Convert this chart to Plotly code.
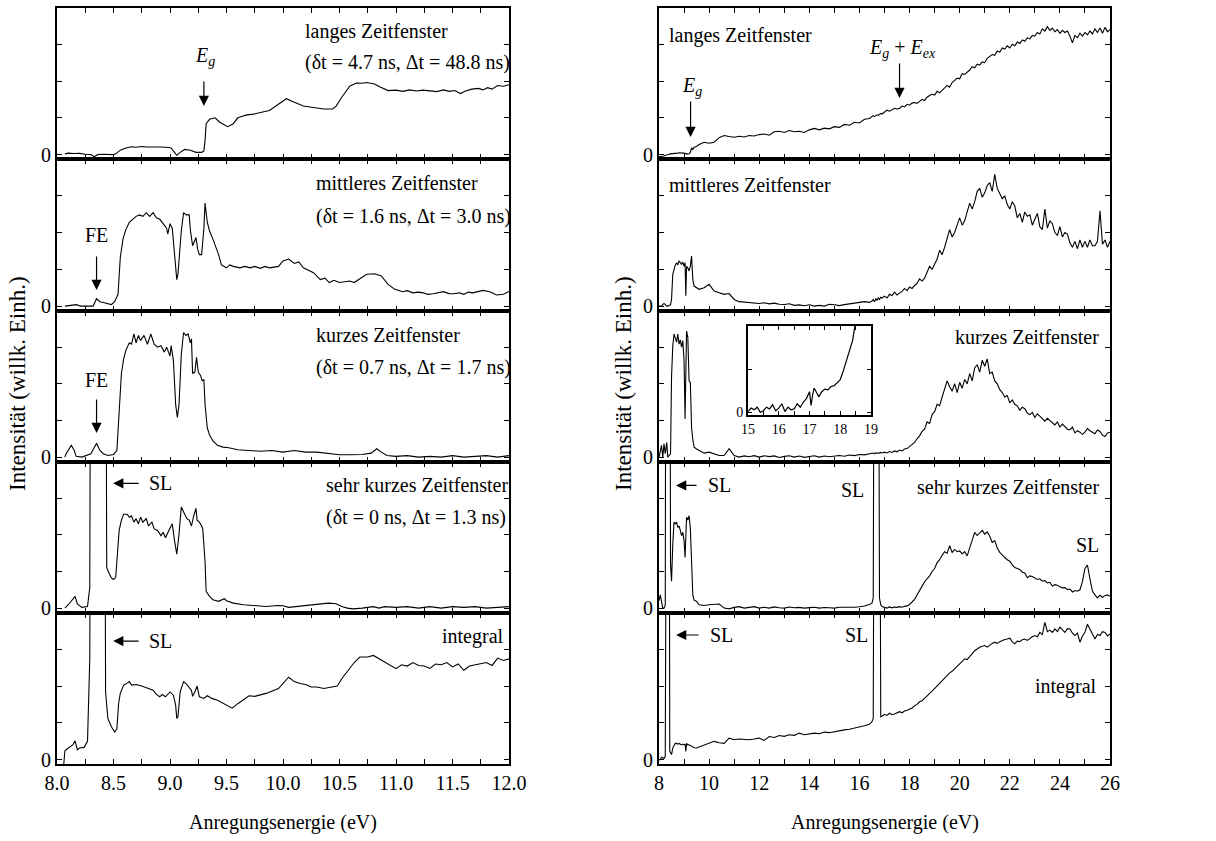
import plotly.graph_objects as go

# ---------------- data: left column (8-12 eV) ----------------
E_L1 = [8.07, 8.10, 8.15, 8.20, 8.25, 8.30, 8.33, 8.36, 8.40, 8.45, 8.50, 8.52, 8.56, 8.61, 8.66, 8.70, 8.75, 8.80, 8.85, 8.90,
        8.97, 9.01, 9.04, 9.06, 9.09, 9.13, 9.18, 9.23, 9.28, 9.30, 9.31, 9.32, 9.35, 9.40, 9.44, 9.51, 9.56, 9.60, 9.64, 9.68,
        9.74, 9.78, 9.82, 9.88, 9.94, 10.03, 10.09, 10.18, 10.27, 10.36, 10.44, 10.47, 10.52, 10.59, 10.65, 10.70, 10.74, 10.78, 10.81, 10.86,
        10.93, 11.00, 11.06, 11.12, 11.18, 11.24, 11.30, 11.36, 11.42, 11.47, 11.52, 11.57, 11.61, 11.67, 11.73, 11.77, 11.81, 11.85, 11.90, 11.95,
        12.00]
I_L1 = [0.5, 1, 0.7, 0.8, 0.2, 0, -1.5, 0, 0.2, 0, 0, 0.5, 3, 4.5, 5.3, 5, 5.5, 5.2, 5.4, 5.2,
        5, 4.5, 1.5, -0.5, 1.5, 3.5, 3, 1.5, 1.5, 2.5, 9.5, 21, 24, 25, 22, 19, 21, 25, 26, 27,
        27.5, 28.5, 29, 30, 33, 38, 36, 33, 32, 31, 31, 33, 39, 46.5, 48.6, 48.5, 49, 48.3, 48, 46,
        43.5, 43.8, 43, 44, 43.2, 43.8, 43.5, 42.8, 44, 43, 43.6, 41.5, 43, 44.5, 45, 44, 45.5, 44.5, 47, 46.5,
        47.5]

E_L2 = [8.07, 8.12, 8.17, 8.21, 8.25, 8.32, 8.35, 8.38, 8.41, 8.44, 8.48, 8.51, 8.54, 8.56, 8.585, 8.61, 8.64, 8.67, 8.70, 8.73,
        8.76, 8.79, 8.82, 8.85, 8.88, 8.91, 8.94, 8.97, 8.98, 9.00, 9.02, 9.04, 9.06, 9.07, 9.09, 9.10, 9.12, 9.145, 9.17, 9.18,
        9.20, 9.23, 9.245, 9.26, 9.28, 9.30, 9.31, 9.33, 9.35, 9.38, 9.43, 9.455, 9.50, 9.53, 9.56, 9.59, 9.62, 9.66, 9.71, 9.75,
        9.80, 9.84, 9.88, 9.92, 9.96, 10.00, 10.05, 10.10, 10.14, 10.18, 10.27, 10.33, 10.37, 10.41, 10.45, 10.50, 10.55, 10.59, 10.63, 10.67,
        10.74, 10.81, 10.87, 10.93, 10.99, 11.06, 11.10, 11.15, 11.20, 11.24, 11.28, 11.33, 11.38, 11.42, 11.47, 11.51, 11.56, 11.60, 11.64, 11.68,
        11.77, 11.83, 11.89, 11.95, 12.00]
I_L2 = [0, 0.5, 1, 0, 0, 0, 5, 3, 2.5, 2, 1, 3, 8, 33, 46, 52, 57, 59, 61, 62,
        61, 63.5, 61, 63.5, 60, 59, 56, 53, 49, 56, 53, 33, 18, 21.5, 42, 51, 63.5, 62, 62, 52,
        41, 46.6, 38.6, 35, 35, 53, 70, 57, 51, 45.5, 35, 28, 26, 28, 27, 26.5, 26, 27, 26, 27,
        25.7, 27, 26, 26.5, 27, 30.7, 32, 29, 30, 26, 22.7, 18, 19, 16, 17.5, 16, 16.5, 17, 16, 18,
        21.6, 22, 20.5, 14.8, 11.4, 9.8, 10.5, 9, 9.5, 9, 8, 8.4, 9, 9.8, 8.5, 8.4, 9, 8, 9.5, 9,
        10.7, 9.8, 7.5, 8, 10]

E_L3 = [8.07, 8.08, 8.127, 8.15, 8.17, 8.22, 8.30, 8.35, 8.38, 8.41, 8.45, 8.50, 8.53, 8.55, 8.57, 8.59, 8.61, 8.64, 8.66, 8.68,
        8.70, 8.72, 8.74, 8.77, 8.80, 8.83, 8.86, 8.89, 8.92, 8.95, 8.97, 9.00, 9.01, 9.03, 9.05, 9.065, 9.08, 9.10, 9.12, 9.14,
        9.16, 9.18, 9.19, 9.20, 9.22, 9.235, 9.25, 9.27, 9.285, 9.30, 9.31, 9.33, 9.35, 9.38, 9.42, 9.47, 9.52, 9.60, 9.70, 9.80,
        9.90, 10.00, 10.10, 10.20, 10.30, 10.40, 10.50, 10.60, 10.70, 10.78, 10.83, 10.87, 10.92, 11.00, 11.10, 11.20, 11.30, 11.40, 11.50, 11.60,
        11.70, 11.80, 11.90, 12.00]
I_L3 = [0, 2.3, 8, 5, 0.5, 0, 2.3, 9.5, 4.5, 2.3, 1.1, 1.8, 4.5, 32, 57, 67, 73, 78, 77, 84,
        78, 83, 79.5, 83, 77, 84, 77, 75, 76, 71.6, 75, 69, 76, 66, 36, 27, 36, 70, 85, 83,
        84, 78, 80.7, 57, 58, 68, 58, 55.7, 52, 53, 36, 20, 15, 11, 8, 6.8, 6.4, 5, 4.5, 4,
        4.5, 3.4, 4.5, 3.4, 3.4, 2.3, 1.6, 1.6, 1.8, 2.7, 5.7, 3.4, 1.1, 0.5, 1, 0, 0.5, 0, 1, 0,
        0.5, 1, 0, 1]

E_L4 = [8.07, 8.10, 8.16, 8.18, 8.22, 8.27, 8.29, 8.30, 8.43, 8.44, 8.46, 8.48, 8.50, 8.52, 8.53, 8.55, 8.57, 8.59, 8.62, 8.64,
        8.66, 8.68, 8.70, 8.72, 8.74, 8.76, 8.79, 8.81, 8.84, 8.86, 8.89, 8.92, 8.94, 8.96, 8.99, 9.01, 9.02, 9.04, 9.06, 9.08,
        9.10, 9.13, 9.15, 9.17, 9.19, 9.21, 9.23, 9.24, 9.26, 9.28, 9.29, 9.31, 9.32, 9.35, 9.38, 9.43, 9.48, 9.50, 9.56, 9.65,
        9.75, 9.85, 9.95, 10.00, 10.05, 10.12, 10.20, 10.30, 10.40, 10.47, 10.52, 10.57, 10.62, 10.70, 10.80, 10.85, 10.90, 11.00, 11.10, 11.20,
        11.30, 11.40, 11.50, 11.60, 11.70, 11.80, 11.90, 12.00]
I_L4 = [0, 2.3, 8, 2.8, 0.5, 1.1, 14, 300, 300, 27.6, 24, 20.7, 19.5, 21, 32, 53, 60, 64, 64, 62,
        63, 58.6, 61, 57.5, 62, 58.6, 61, 56, 58.6, 54, 53, 49.4, 51.7, 48, 53, 56, 57.5, 46, 36.8, 50.6,
        69, 64, 61, 60, 56, 63, 68, 60, 58.6, 56, 54, 32, 11.5, 8, 5.7, 4.6, 6.4, 5, 3.4, 2.3,
        1.8, 1.1, 1.8, 1.6, 0.5, 1.1, 1.8, 2.8, 3.4, 3, 1.1, 0, -0.5, 0, 1, 0, 1, 0.5, 1, 0,
        1, 0, 1, 0.5, 1, 0, 0.5, 1]

E_L5 = [8.06, 8.07, 8.10, 8.14, 8.16, 8.18, 8.20, 8.22, 8.24, 8.27, 8.28, 8.29, 8.30, 8.42, 8.43, 8.45, 8.48, 8.51, 8.53, 8.545,
        8.56, 8.59, 8.62, 8.64, 8.66, 8.70, 8.75, 8.80, 8.85, 8.88, 8.91, 8.93, 8.96, 9.00, 9.03, 9.05, 9.06, 9.07, 9.09, 9.12,
        9.15, 9.19, 9.20, 9.22, 9.24, 9.26, 9.30, 9.33, 9.37, 9.42, 9.48, 9.55, 9.60, 9.65, 9.70, 9.75, 9.80, 9.85, 9.90, 9.96,
        10.05, 10.10, 10.15, 10.20, 10.25, 10.30, 10.36, 10.42, 10.48, 10.52, 10.58, 10.63, 10.68, 10.75, 10.80, 10.84, 10.90, 10.95, 11.00, 11.05,
        11.10, 11.15, 11.20, 11.25, 11.30, 11.35, 11.40, 11.45, 11.50, 11.55, 11.60, 11.65, 11.70, 11.75, 11.80, 11.85, 11.90, 11.95, 12.00]
I_L5 = [-3, 6, 7.9, 10, 12.8, 6.7, 7.9, 7.9, 8.3, 12.4, 35, 68.5, 300, 300, 46, 28, 22.5, 18.7, 21, 38,
        45, 50.6, 52, 53, 50.6, 51, 50, 48.8, 47.2, 44.3, 42.7, 44.3, 42.7, 46, 43.8, 37, 28, 29, 46, 53,
        51, 47, 43, 46, 50, 42.7, 41.6, 43.4, 41.6, 40.4, 38, 35, 38, 40.4, 43.4, 43, 43.8, 45, 46.5, 48.3,
        56, 53, 51.7, 51, 49.4, 49.4, 48.3, 49.4, 50, 55, 60.7, 66, 69.7, 69.7, 70.8, 69, 66, 63.6, 61.8, 64.5,
        63.6, 66, 64, 63.6, 62, 65, 64.5, 66, 63, 65, 60.7, 63.6, 64.5, 65, 66, 64, 69, 67.4, 68.5]

# ---------------- data: right column (8-26 eV), shared energy grid ----------------
E_R = [8.0, 8.05, 8.1, 8.15, 8.2, 8.25, 8.28, 8.31, 8.35, 8.4, 8.43, 8.46, 8.5, 8.55, 8.6, 8.65, 8.7, 8.75, 8.8, 8.85,
       8.9, 8.95, 9.0, 9.04, 9.07, 9.1, 9.15, 9.2, 9.25, 9.3, 9.35, 9.4, 9.5,
       9.6, 9.8, 10.0, 10.2, 10.4, 10.6, 10.8, 11.0, 11.2, 11.4, 11.6, 11.8, 12.0, 12.2, 12.4, 12.6, 12.8, 13.0, 13.2, 13.4,
       13.6, 13.8, 14.0, 14.2, 14.4, 14.6, 14.8, 15.0, 15.2, 15.4, 15.6, 15.8, 16.0, 16.2, 16.4,
       16.5, 16.55, 16.6, 16.65, 16.7, 16.75, 16.8, 16.85, 16.9,
       17.0, 17.1, 17.2, 17.3, 17.4, 17.5, 17.6, 17.7, 17.8, 17.9,
       18.0, 18.1, 18.2, 18.3, 18.4, 18.5, 18.6, 18.7, 18.8, 18.9,
       19.0, 19.1, 19.2, 19.3, 19.4, 19.5, 19.6, 19.7, 19.8, 19.9,
       20.0, 20.1, 20.2, 20.3, 20.4, 20.5, 20.6, 20.7, 20.8, 20.9,
       21.0, 21.1, 21.2, 21.3, 21.4, 21.5, 21.6, 21.7, 21.8, 21.9,
       22.0, 22.1, 22.2, 22.3, 22.4, 22.5, 22.6, 22.7, 22.8, 22.9,
       23.0, 23.1, 23.2, 23.3, 23.4, 23.5, 23.6, 23.7, 23.8, 23.9,
       24.0, 24.1, 24.2, 24.3, 24.4, 24.5, 24.6, 24.7, 24.8, 24.9,
       25.0, 25.1, 25.2, 25.3, 25.4, 25.5, 25.6, 25.7, 25.8, 25.9, 26.0]

I_R1 = [-1.5, -1.5, -1, -1, -1, -0.5, -0.5, 0, 0, 0, 0.5, 0.5, 0.5, 1, 1, 1, 1, 1, 1.2, 1,
        1, 1, 1, 0.8, 0.5, 0.5, 0.3, 0.5, 1.5, 4.5, 3.5, 5, 5.5,
        6.8, 8.4, 7.7, 8.4, 11.5, 13, 12.3, 11.8, 12.5, 12, 13, 12.6, 13.6, 14, 13.2, 15.5, 15.9, 15, 16.4, 15.5,
        15.9, 15, 16.8, 17.8, 16.8, 18, 17.5, 19, 18.5, 20.5, 20, 22, 21.5, 24, 24.5,
        25.5, 26.5, 25.8, 26.5, 27, 26.6, 27.5, 28, 27.6,
        29, 30.2, 29.5, 30.8, 31.5, 31, 31.4, 33, 32.5, 34.2,
        33.6, 35, 35.5, 34.8, 36, 37.5, 36.8, 39, 40.2, 41,
        40.5, 43, 42, 43.5, 45, 47, 45.8, 49, 50.5, 52,
        51.5, 55, 54.5, 56, 57.5, 59.8, 59, 61.5, 60.8, 63,
        62.5, 65.5, 66.5, 68, 67.5, 70.5, 69.5, 72.5, 71.8, 74,
        72.5, 75, 74, 76.5, 75.5, 78, 77, 79.5, 78.5, 81,
        80.5, 83, 82, 85.5, 84, 87, 84.5, 86, 83.5, 85,
        82.5, 84.5, 83, 84, 80.5, 76, 81, 79.5, 82.5, 80.5,
        83, 81.5, 84, 82, 85.5, 83, 86, 82.5, 86.5, 83.5, 85]

I_R2 = [0, 0, 0, 1, 1.8, 1, 0, 0, 0, 0, 0.5, 1, 4.5, 21.6, 26, 28, 29.5, 28, 30.7, 29,
        28.4, 30, 27, 29.5, 7, 27, 26, 23.9, 27, 34, 18, 13.6, 12.5,
        11.4, 12.5, 14.8, 10.2, 9, 8, 8.5, 4.5, 3, 2.7, 2.7, 2, 1.8, 2.3, 1.5, 2, 1.2, 1.1, 1.6, 0.5,
        0.8, 0.2, 0.9, 0, 0.5, 0, 1.2, 0.9, 0.3, 1, 1.5, 2, 2.3, 3, 2.5,
        3.4, 4.5, 3, 5, 4, 5.5, 4.5, 6, 5.5,
        6.8, 5.5, 8, 7.2, 9.5, 7.5, 8.8, 10, 12, 10.5,
        13, 12, 14, 15.5, 18.5, 17, 19, 22.5, 27, 25,
        29, 32, 38, 35, 40, 46, 52, 47, 50, 55,
        60, 55, 58, 64, 70, 66, 71, 78, 80, 74,
        77, 82, 84, 78, 89.5, 80, 77, 73, 75, 69,
        66, 71, 68, 60, 63, 57, 64, 61, 62, 55,
        59, 63, 54, 52, 66, 53, 58, 56, 50, 48,
        54, 47, 50, 49, 43, 40, 44, 39, 45, 40,
        44, 40, 45, 41, 41, 44, 64.8, 42, 45, 40, 44]

I_R3 = [0, 4.5, 8, 0, 9, 2.3, 8, 10, 0, 1, 2.3, 2.3, 54.5, 76, 84, 80, 78.4, 84, 77, 80,
        75, 79.5, 66, 26, 84, 86, 81.8, 52, 51, 20, 12, 6.8, 5.5,
        4.5, 2.7, 3.4, 2, 1.1, 1.1, 5.7, 1.1, 0, 0.8, 0.2, 1, 0, 0.9, 0.3, 0.8, -0.3, 0.5, 0.9, 0,
        0.7, -0.2, 0.3, 0.9, 0, 0.7, 0.2, 0.8, 1.1, 0.6, 1.4, 1, 1.8, 1.5, 2.2,
        2.3, 2.8, 2.2, 3, 2.5, 2.9, 2.7, 3.2, 2.8,
        3.4, 2.8, 3.8, 3.2, 4.2, 3.6, 4.8, 4.2, 5.5, 5.8,
        7, 8.5, 10, 12.5, 14.5, 17.5, 19, 24, 23, 29,
        31, 36, 35, 41, 47, 52, 48, 45, 50, 44,
        51, 47, 53, 50, 57, 52, 61, 63, 58, 66,
        62, 67, 57, 58, 52, 50, 46, 44, 41, 42,
        37, 39, 36, 35, 32, 34, 33, 30, 29, 30.5,
        27, 29.5, 28, 26, 24.5, 26.5, 25, 23, 22, 24,
        20.5, 22.5, 21, 19, 18.5, 20.5, 16.5, 18, 17, 15.5,
        17, 19.5, 18, 17, 16, 18.5, 17.5, 15, 14, 16.5, 17]

I_R4 = [5, 9, 4.6, 0, 0, 2, 300, 300, 300, 300, 300, 30, 18.4, 43.7, 58.6, 57.5, 58.6, 55, 56, 53,
        49.4, 51.7, 46, 34.5, 55, 62, 60, 63, 55, 32, 9, 5.5, 4.6,
        2.3, 1.8, 2.3, 2.8, 2.8, 0, -0.5, 0.5, 1, 0, 0.5, 1, 0, 0.6, 0, 0.8, 0.2, 0, 0.7, 0.2,
        0.5, 0, 0.3, 0.6, 0, 0.4, 0.2, 0, 0.6, 0.5, 0.8, 0.6, 0.9, 1.4, 2.5,
        3.4, 6.9, 300, 300, 300, 300, 6.9, 2.3, 1,
        0.5, 0, 0.8, 0.2, 0.7, 0.5, 1, 0.6, 1.2, 1.5,
        2.5, 4, 6, 9, 12.5, 15, 18, 20, 22, 25,
        27, 31, 33, 36, 38.5, 37.5, 42.5, 38, 40, 38.5,
        39, 37, 38.5, 35.6, 41, 46, 51.7, 49.5, 51, 53,
        50.5, 52, 49, 44.8, 46, 41, 38, 36, 34.5, 33,
        32, 29.5, 27.6, 27, 26.4, 24.5, 24, 20.7, 22, 21.5,
        20.5, 19.5, 20, 18.4, 18.8, 17.2, 17.6, 15, 16, 15.6,
        14.5, 13.8, 14, 12.6, 13, 11, 12, 11.5, 12.5, 18,
        27, 29.4, 20, 11.5, 9, 7, 8.7, 7.4, 8.5, 9, 8]

I_R5 = [0, 0, 1.6, 1, 0.7, 2.2, 300, 300, 300, 300, 5.6, 4, 3.4, 8, 10, 11, 11, 10.5, 11, 10.5,
        10, 10.5, 10, 10.5, 5.6, 11, 10, 10, 9.5, 9, 8.5, 8, 7.9,
        8.5, 9.7, 11, 12.4, 11.5, 11, 14.6, 13.5, 14, 13.6, 13.5, 14, 14.6, 13, 15.7, 15, 16.4, 15.8, 16.9, 16.5,
        18, 16.9, 17.5, 18, 17.6, 18.7, 18.3, 19, 19.8, 20.2, 20.6, 21.3, 22, 23, 24,
        25.8, 28, 300, 300, 300, 300, 300, 29.2, 29.5,
        30.8, 30, 31.5, 30.5, 31, 32, 32.6, 31.8, 33, 33.5,
        34.4, 35, 36.6, 37.5, 39.3, 40, 41.6, 43.5, 45, 46.5,
        48.3, 50, 51.7, 53.5, 55, 57.5, 59, 60, 61.8, 63,
        65, 66.5, 68.5, 68, 69.7, 72, 74, 75.5, 76.4, 77,
        77.5, 76.5, 78, 79, 79.8, 79, 80.2, 81, 81.6, 82,
        82.5, 80, 78.7, 80.5, 80.2, 81.5, 82, 81, 82.5, 83.5,
        84.3, 83.5, 86.5, 85, 93.3, 87, 88, 86.5, 88.8, 87,
        90, 88, 86.5, 89, 88.8, 86, 84.3, 86, 79.8, 84,
        86.5, 92, 88.8, 85, 82, 85, 84.3, 87, 86.5, 84, 85.4]

# inset (kurzes Zeitfenster, 15-19 eV)
E_IN = [15.0, 15.1, 15.2, 15.3, 15.4, 15.5, 15.6, 15.7, 15.8, 15.9, 16.0, 16.1, 16.2, 16.3, 16.4, 16.5, 16.6, 16.7, 16.8, 16.9,
        17.0, 17.05, 17.1, 17.15, 17.2, 17.3, 17.4, 17.5, 17.6, 17.7, 17.8, 17.9, 18.0, 18.1, 18.2, 18.3, 18.4, 18.5]
I_IN = [0.1, 0.5, 0.3, 0.6, 0, 0.2, 0.6, 0.4, 0.9, 0.2, 0.5, 1, 0.1, 0.6, 0.3, 0.4, 1.0, 0.6, 1.2, 1.6,
        2.4, 0.8, 2.0, 2.8, 2.5, 1.8, 2.4, 2.7, 2.6, 3.0, 3.1, 3.4, 3.8, 4.8, 6.0, 7.4, 8.3, 10.5]

LEFT = [(E_L1, I_L1), (E_L2, I_L2), (E_L3, I_L3), (E_L4, I_L4), (E_L5, I_L5)]
RIGHT = [I_R1, I_R2, I_R3, I_R4, I_R5]

# ---------------- layout geometry ----------------
W, H = 1216, 841
FONT = "Liberation Serif, Times New Roman, Times, DejaVu Serif, serif"
borders = [7.5, 159, 310.5, 461.5, 612.5, 764]
ydoms = [[1 - borders[i + 1] / H, 1 - borders[i] / H] for i in range(5)]
xdom_l = [57 / W, 509 / W]
xdom_r = [659 / W, 1110 / W]
YR = [-3, 100]


def xr(n):
    return "x" if n == 1 else f"x{n}"


def yr(n):
    return "y" if n == 1 else f"y{n}"


fig = go.Figure()
line = dict(color="black", width=1.1)

for i, (e, v) in enumerate(LEFT):
    fig.add_trace(go.Scatter(x=e, y=v, mode="lines", line=line, xaxis=xr(i + 1), yaxis=yr(i + 1),
                             hoverinfo="skip"))
for i, v in enumerate(RIGHT):
    fig.add_trace(go.Scatter(x=E_R, y=v, mode="lines", line=line, xaxis=xr(i + 6), yaxis=yr(i + 6),
                             hoverinfo="skip"))
fig.add_trace(go.Scatter(x=E_IN, y=I_IN, mode="lines", line=dict(color="black", width=1.2),
                         xaxis="x11", yaxis="y11", hoverinfo="skip"))

lay = {}
common = dict(showline=True, linewidth=2, linecolor="black", mirror="ticks", ticks="inside",
              ticklen=5, tickwidth=1.2, tickcolor="black", showgrid=False, zeroline=False,
              automargin=False, tickfont=dict(size=20, family=FONT, color="black"))
for i in range(5):
    for side in ("L", "R"):
        n = i + 1 if side == "L" else i + 6
        xa = dict(common)
        if side == "L":
            xa.update(domain=xdom_l, range=[8, 12], tick0=8, dtick=0.5, tickformat=".1f",
                      minor=dict(dtick=0.25, ticks="inside", ticklen=5, tickwidth=1.2, tickcolor="black"))
        else:
            xa.update(domain=xdom_r, range=[8, 26], tick0=8, dtick=2,
                      minor=dict(dtick=1, ticks="inside", ticklen=5, tickwidth=1.2, tickcolor="black"))
        xa.update(anchor=yr(n), showticklabels=(i == 4))
        ya = dict(common)
        ya.update(domain=ydoms[i], range=YR, anchor=xr(n), tickvals=[0, 25, 50, 75],
                  ticktext=["0", "", "", ""])
        lay["xaxis" if n == 1 else f"xaxis{n}"] = xa
        lay["yaxis" if n == 1 else f"yaxis{n}"] = ya

# inset axes
xa = dict(common)
xa.update(domain=[748 / W, 871 / W], range=[15, 19], dtick=1, anchor="y11", ticklen=4,
          tickfont=dict(size=14, family=FONT, color="black"),
          minor=dict(dtick=0.5, ticks="inside", ticklen=4, tickwidth=1.2, tickcolor="black"))
ya = dict(common)
ya.update(domain=[1 - 415 / H, 1 - 326 / H], range=[-0.3, 10], anchor="x11", ticklen=4,
          tickvals=[0, 5], ticktext=["0", ""], tickfont=dict(size=14, family=FONT, color="black"))
lay["xaxis11"] = xa
lay["yaxis11"] = ya

anns = []


def txt(n, x, y, s, anchor="left", size=20):
    anns.append(dict(xref=xr(n), yref=yr(n), x=x, y=y, text=s, showarrow=False, xanchor=anchor,
                     yanchor="middle", font=dict(size=size, family=FONT, color="black")))


def arrow(n, x, y, ax, ay):
    anns.append(dict(xref=xr(n), yref=yr(n), x=x, y=y, ax=ax, ay=ay, text="", showarrow=True,
                     arrowhead=2, arrowsize=1.7, arrowwidth=1.2, arrowcolor="black"))


# left column
txt(1, 10.18, 83.4, "langes Zeitfenster")
txt(1, 10.18, 62.3, "(δt = 4.7 ns, Δt = 48.8 ns)")
txt(1, 9.31, 66.4, "<i>E<sub>g</sub></i>", anchor="center")
arrow(1, 9.30, 33.0, 0, -26)
txt(2, 10.27, 83.7, "mittleres Zeitfenster")
txt(2, 10.27, 60.6, "(δt = 1.6 ns, Δt = 3.0 ns)")
txt(2, 8.35, 48.3, "FE", anchor="center")
arrow(2, 8.35, 10.9, 0, -35)
txt(3, 10.27, 83.0, "kurzes Zeitfenster")
txt(3, 10.27, 61.3, "(δt = 0.7 ns, Δt = 1.7 ns)")
txt(3, 8.35, 52.4, "FE", anchor="center")
arrow(3, 8.35, 16.4, 0, -35)
txt(4, 10.36, 83.7, "sehr kurzes Zeitfenster")
txt(4, 10.36, 61.9, "(δt = 0 ns, Δt = 1.3 ns)")
txt(4, 8.80, 85.1, "SL")
arrow(4, 8.497, 85.1, 27, 0)
txt(5, 11.97, 83.4, "integral", anchor="right")
txt(5, 8.80, 80.6, "SL")
arrow(5, 8.497, 80.6, 27, 0)

# right column
txt(6, 8.32, 81.3, "langes Zeitfenster")
txt(6, 9.33, 46.6, "<i>E<sub>g</sub></i>", anchor="center")
arrow(6, 9.26, 12.0, 0, -37)
txt(6, 17.70, 71.8, "<i>E<sub>g</sub></i> + <i>E<sub>ex</sub></i>", anchor="center")
arrow(6, 17.6, 38.5, 0, -36)
txt(7, 8.32, 82.3, "mittleres Zeitfenster")
txt(8, 25.65, 81.7, "kurzes Zeitfenster", anchor="right")
txt(9, 25.65, 82.3, "sehr kurzes Zeitfenster", anchor="right")
txt(9, 9.88, 83.7, "SL")
arrow(9, 8.68, 83.7, 22, 0)
txt(9, 16.26, 80.3, "SL", anchor="right")
txt(9, 25.65, 42.9, "SL", anchor="right")
txt(10, 9.96, 84.7, "SL")
arrow(10, 8.68, 84.7, 24, 0)
txt(10, 16.42, 84.7, "SL", anchor="right")
txt(10, 25.58, 49.4, "integral", anchor="right")

# axis titles (paper coordinates)
for xc in (17 / W, 623 / W):
    anns.append(dict(xref="paper", yref="paper", x=xc, y=1 - 384 / H, text="Intensität (willk. Einh.)",
                     textangle=-90, showarrow=False, xanchor="center", yanchor="middle",
                     font=dict(size=23, family=FONT, color="black")))
for xc in (283 / W, 885 / W):
    anns.append(dict(xref="paper", yref="paper", x=xc, y=1 - 822 / H, text="Anregungsenergie (eV)",
                     showarrow=False, xanchor="center", yanchor="middle",
                     font=dict(size=20, family=FONT, color="black")))

fig.update_layout(width=W, height=H, margin=dict(l=0, r=0, t=0, b=0, autoexpand=False),
                  paper_bgcolor="white", plot_bgcolor="white", showlegend=False, annotations=anns,
                  font=dict(family=FONT, color="black"), **lay)

fig.write_html("out.html")
